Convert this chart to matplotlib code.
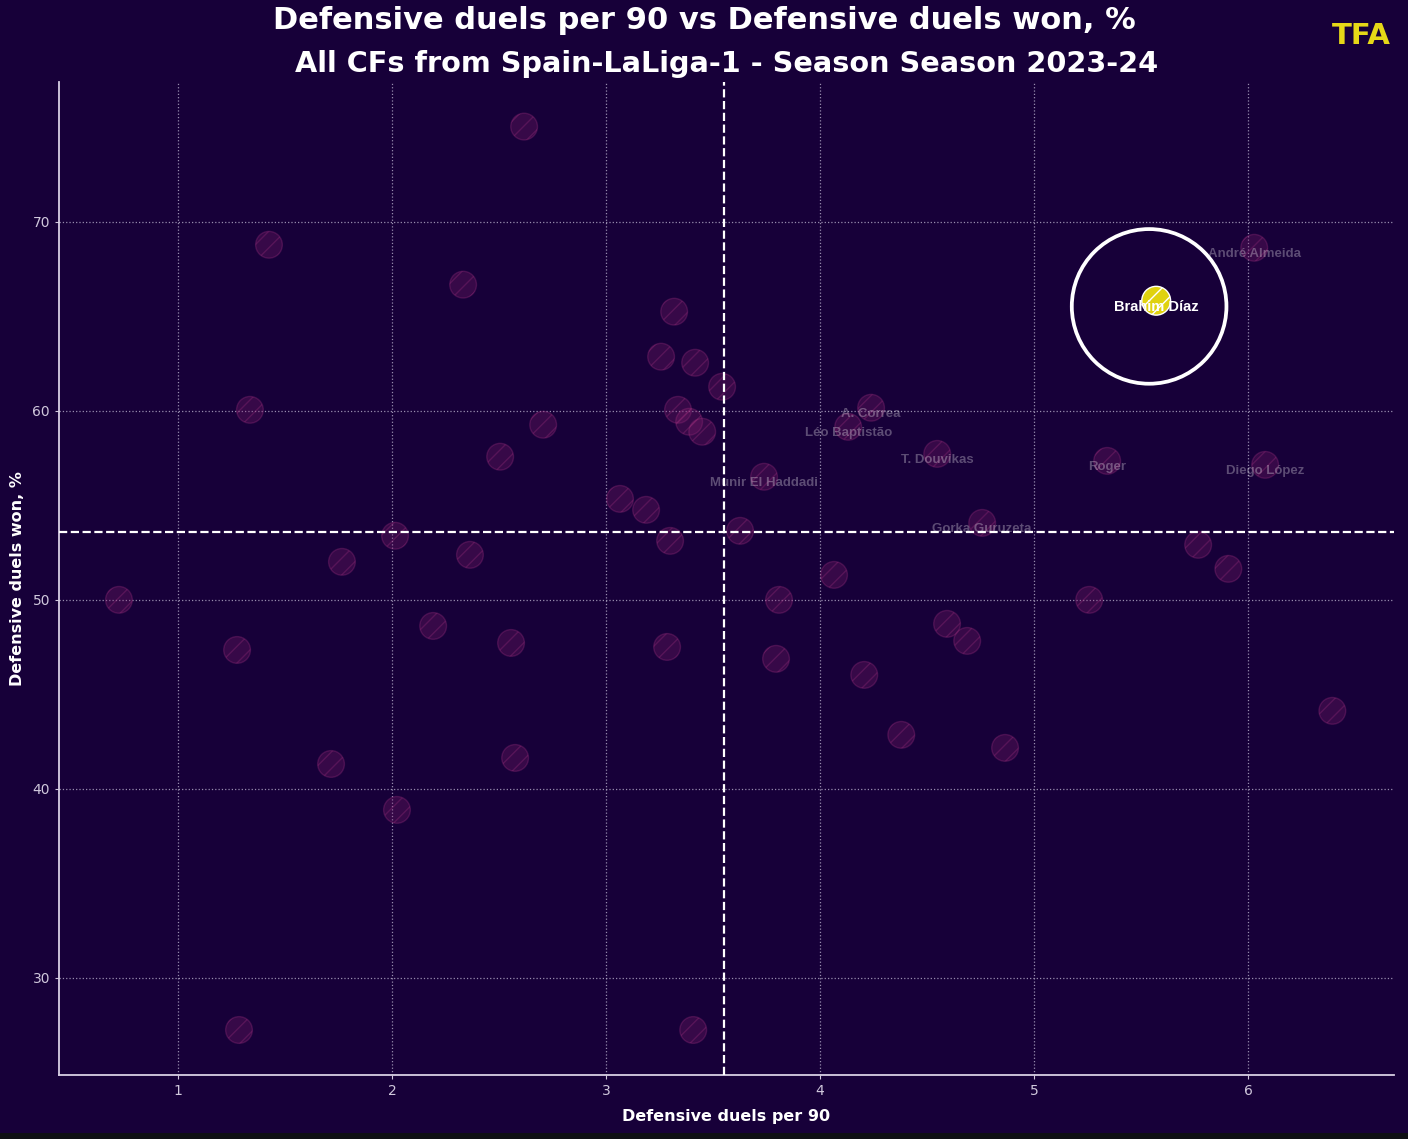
import numpy as np
import matplotlib.pyplot as plt
from matplotlib.patches import Rectangle

# data
players = ['', '', '', '', '', '', '', '', '', '',
           '', '', '', '', '', '', '', '', '', '',
           '', '', '', '', '', '', '', '', '', '',
           'Munir El Haddadi', 'A. Correa', 'Léo Baptistão', 'T. Douvikas', 'Gorka Guruzeta',
           'Roger', 'Diego López', 'André Almeida', 'Brahim Díaz',
           '', '', '', '', '', '', '', '', '', '', '', '']
duels_p90 = [2.617, 1.425, 2.332, 3.318, 3.257, 3.416, 3.542, 1.336, 2.706, 3.336,
             3.388, 3.449, 2.505, 3.065, 3.187, 3.299, 2.014, 1.766, 2.364, 3.626,
             0.724, 1.276, 2.192, 2.556, 3.285, 1.715, 2.575, 2.023, 1.285, 3.407,
             3.738, 4.238, 4.131, 4.547, 4.757,
             5.341, 6.079, 6.028, 5.570,
             3.808, 3.794, 4.065, 4.206, 4.379, 4.593, 4.687, 4.864, 5.257, 5.766, 5.907, 6.393]
duels_won = [75.03, 68.78, 66.67, 65.24, 62.86, 62.54, 61.27, 60.05, 59.26, 60.05,
             59.42, 58.89, 57.57, 55.34, 54.76, 53.12, 53.39, 52.01, 52.38, 53.65,
             50.00, 47.35, 48.62, 47.72, 47.51, 41.32, 41.64, 38.89, 27.25, 27.25,
             56.51, 60.16, 59.15, 57.72, 54.07,
             57.35, 57.14, 68.62, 65.82,
             50.00, 46.88, 51.32, 46.03, 42.86, 48.73, 47.83, 42.17, 50.00, 52.91, 51.64, 44.13]
highlight = 'Brahim Díaz'
mean_x = 3.551
mean_y = 53.6

bg = '#170039'
title_font = ['DejaVu Sans']
name_font = ['Liberation Sans', 'DejaVu Sans']

fig = plt.figure(figsize=(14.08, 11.39), dpi=100, facecolor=bg)
ax = fig.add_axes([0.0419, 0.0562, 0.948, 0.872])
ax.set_facecolor(bg)

x = np.array(duels_p90)
y = np.array(duels_won)
hl = np.array([p == highlight for p in players])

ax.scatter(x[~hl], y[~hl], s=370, facecolor='#84206e', edgecolor='#a0307f',
           hatch='//', linewidth=1, alpha=0.3, zorder=2)
ax.scatter(x[hl], y[hl], s=430, facecolor='#e0d20f', edgecolor='white',
           hatch='//', linewidth=1, zorder=5)
ax.scatter(x[hl] - 0.033, y[hl] - 0.3, s=12400, facecolor='none', edgecolor='white',
           linewidth=2.7, zorder=6)

for px, py, name in zip(x, y, players):
    if not name:
        continue
    if name == highlight:
        ax.annotate(name, (px, py), xytext=(0, -4.7), textcoords='offset points',
                    ha='center', va='center', fontsize=10.5, fontweight='bold',
                    family=name_font, color='white', zorder=7)
    else:
        ax.annotate(name, (px, py), xytext=(0, -4.7), textcoords='offset points',
                    ha='center', va='center', fontsize=9.5, fontweight='bold',
                    family=name_font, color='white', alpha=0.3, zorder=4)

ax.axvline(mean_x, color='white', linestyle='--', linewidth=1.6, zorder=3)
ax.axhline(mean_y, color='white', linestyle='--', linewidth=1.6, zorder=3)

ax.set_xlim(0.444, 6.68)
ax.set_ylim(24.87, 77.4)
ax.set_xticks([1, 2, 3, 4, 5, 6])
ax.set_yticks([30, 40, 50, 60, 70])
ax.grid(True, color='#b8b0cc', linestyle=':', linewidth=0.9, alpha=0.8, zorder=1)
ax.set_axisbelow(True)

for s in ['top', 'right']:
    ax.spines[s].set_visible(False)
for s in ['left', 'bottom']:
    ax.spines[s].set_color('#d8d0e4')
    ax.spines[s].set_linewidth(1.3)
ax.tick_params(colors='#d0c8dc', labelsize=10, length=3, width=0.8)

ax.set_xlabel('Defensive duels per 90', fontsize=11.5, fontweight='bold',
              family=title_font, color='white', labelpad=8)
ax.set_ylabel('Defensive duels won, %', fontsize=11.5, fontweight='bold',
              family=title_font, color='white', labelpad=5)

fig.text(0.5, 0.982, 'Defensive duels per 90 vs Defensive duels won, %',
         ha='center', va='center', fontsize=22, fontweight='bold',
         family=title_font, color='white')
fig.text(0.516, 0.944, 'All CFs from Spain-LaLiga-1 - Season Season 2023-24',
         ha='center', va='center', fontsize=20.7, fontweight='bold',
         family=title_font, color='white')
fig.text(0.967, 0.968, 'TFA', ha='center', va='center', fontsize=21,
         fontweight='bold', family=title_font, color='#e6d817')

# thin dark border strip at the bottom edge
fig.patches.append(Rectangle((0, 0), 1, 0.005, transform=fig.transFigure,
                             facecolor='#0e0f14', edgecolor='none'))

fig.savefig('out.png', dpi=100, facecolor=bg)
